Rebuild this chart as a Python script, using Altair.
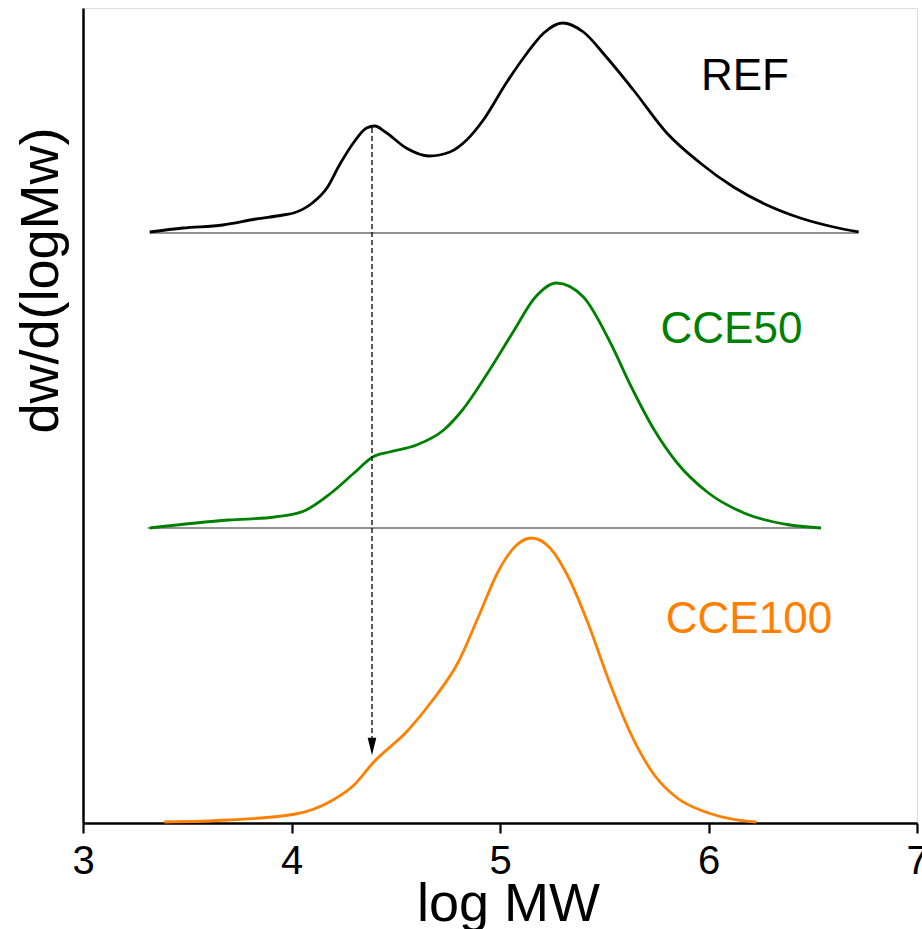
import altair as alt
import pandas as pd

FONT = "Liberation Sans"

series_names = ["REF", "CCE50", "CCE100"]
series_colors = ["#000000", "#008000", "#ff8000"]
baseline_offsets = [5.90, 2.95, 0.0]

ref_x = [3.32, 3.48, 3.67, 3.83, 3.96, 4.01, 4.10, 4.17, 4.23, 4.30, 4.36, 4.40, 4.45, 4.55, 4.66,
         4.76, 4.84, 4.92, 5.03, 5.13, 5.21, 5.30, 5.40, 5.51, 5.64, 5.80, 5.96, 6.12, 6.28, 6.44,
         6.60, 6.72]
ref_h = [0.01, 0.05, 0.08, 0.14, 0.18, 0.20, 0.30, 0.45, 0.68, 0.91, 1.05, 1.07, 1.01, 0.85, 0.77,
         0.81, 0.93, 1.13, 1.50, 1.80, 2.00, 2.10, 2.01, 1.76, 1.43, 1.00, 0.70, 0.46, 0.28, 0.15,
         0.06, 0.01]

cce50_x = [3.32, 3.70, 3.92, 4.06, 4.19, 4.30, 4.39, 4.47, 4.60, 4.73, 4.82, 4.95, 5.06, 5.17,
           5.27, 5.40, 5.53, 5.63, 5.74, 5.85, 6.00, 6.17, 6.39, 6.54]
cce50_h = [0.00, 0.08, 0.11, 0.17, 0.35, 0.55, 0.71, 0.76, 0.83, 0.98, 1.18, 1.58, 1.95, 2.31,
           2.45, 2.31, 1.85, 1.41, 0.98, 0.65, 0.35, 0.15, 0.03, 0.00]

cce100_x = [3.39, 3.70, 4.02, 4.19, 4.30, 4.39, 4.56, 4.67, 4.80, 4.90, 4.99, 5.08, 5.15, 5.24,
            5.33, 5.42, 5.53, 5.63, 5.74, 5.85, 6.00, 6.23]
cce100_h = [0.01, 0.03, 0.09, 0.22, 0.38, 0.60, 0.93, 1.21, 1.61, 2.08, 2.51, 2.78, 2.85, 2.75,
            2.45, 2.01, 1.38, 0.88, 0.48, 0.25, 0.10, 0.01]

xs = [ref_x, cce50_x, cce100_x]
hs = [ref_h, cce50_h, cce100_h]

# baseline segments (REF, CCE50)
base_x_start = [3.32, 3.31]
base_x_end = [6.72, 6.54]

# label positions
label_x = [6.175, 6.11, 6.194]
label_y = [7.465, 4.935, 2.035]

# dashed arrow
arrow_x = 4.386
arrow_y_start = 6.95
arrow_y_end = 0.83
arrow_head_y = 0.765

rows = []
for name, off, xv, hv in zip(series_names, baseline_offsets, xs, hs):
    for i, (a, b) in enumerate(zip(xv, hv)):
        rows.append({"series": name, "x": a, "y": off + b, "order": i})
curves = pd.DataFrame(rows)

bases = pd.DataFrame({"x": base_x_start, "x2": base_x_end, "y": baseline_offsets[:2]})
labels = pd.DataFrame({"series": series_names, "x": label_x, "y": label_y})
arrow = pd.DataFrame({"x": [arrow_x], "y": [arrow_y_start], "y2": [arrow_y_end]})
head = pd.DataFrame({"x": [arrow_x], "y": [arrow_head_y]})

xscale = alt.Scale(domain=[3, 7], nice=False, zero=False)
yscale = alt.Scale(domain=[0, 8.15], nice=False, zero=False)
color = alt.Color("series:N", scale=alt.Scale(domain=series_names, range=series_colors), legend=None)

x_axis = alt.Axis(
    values=[3, 3.5, 4, 4.5, 5, 5.5, 6, 6.5, 7],
    format="d",
    labelExpr="datum.value % 1 === 0 ? format(datum.value, 'd') : ''",
    tickSize=alt.condition("datum.value % 1 === 0", alt.value(10), alt.value(6)),
    tickWidth=2.2, tickColor="black", domainWidth=2.5, domainColor="black",
    labelFont=FONT, labelFontSize=40, labelColor="black", labelPadding=8,
    labelBaseline="top", labelFlush=False, labelOverlap=False,
    title="log MW", titleFont=FONT, titleFontSize=54, titleFontWeight="normal",
    titleColor="black", titleBaseline="alphabetic", titleY=97, titleX=425, grid=False,
)
y_axis = alt.Axis(
    ticks=False, labels=False, domainWidth=2.5, domainColor="black", grid=False,
    title="dw/d(logMw)", titleFont=FONT, titleFontSize=54, titleFontWeight="normal",
    titleColor="black", titleAngle=270, titleX=-42, titleY=272, titleAlign="center",
    titleBaseline="middle",
)

lines = alt.Chart(curves).mark_line(strokeWidth=2.8, interpolate="monotone").encode(
    x=alt.X("x:Q", scale=xscale, axis=x_axis),
    y=alt.Y("y:Q", scale=yscale, axis=y_axis),
    color=color,
    detail="series:N",
    order="order:Q",
)

base_rules = alt.Chart(bases).mark_rule(color="#6e6e6e", strokeWidth=1.5).encode(
    x="x:Q", x2="x2:Q", y="y:Q"
)

dash = alt.Chart(arrow).mark_rule(color="black", strokeWidth=1.3, strokeDash=[5, 3]).encode(
    x="x:Q", y="y:Q", y2="y2:Q"
)

arrowhead = alt.Chart(head).mark_point(
    shape="M-0.5,-1L0.5,-1L0,1Z", filled=True, color="black", size=300, opacity=1
).encode(x="x:Q", y="y:Q")

texts = alt.Chart(labels).mark_text(
    font=FONT, fontSize=44, align="center", baseline="middle"
).encode(x="x:Q", y="y:Q", text="series:N", color=color)

chart = alt.layer(base_rules, lines, dash, arrowhead, texts).properties(
    width=834, height=815,
    autosize=alt.AutoSizeParams(type="none"),
    padding={"left": 83, "top": 8, "right": 5, "bottom": 106},
).configure_view(stroke=None).configure(background="white")

chart.save("out.html", embed_options={"renderer": "svg", "actions": False})
